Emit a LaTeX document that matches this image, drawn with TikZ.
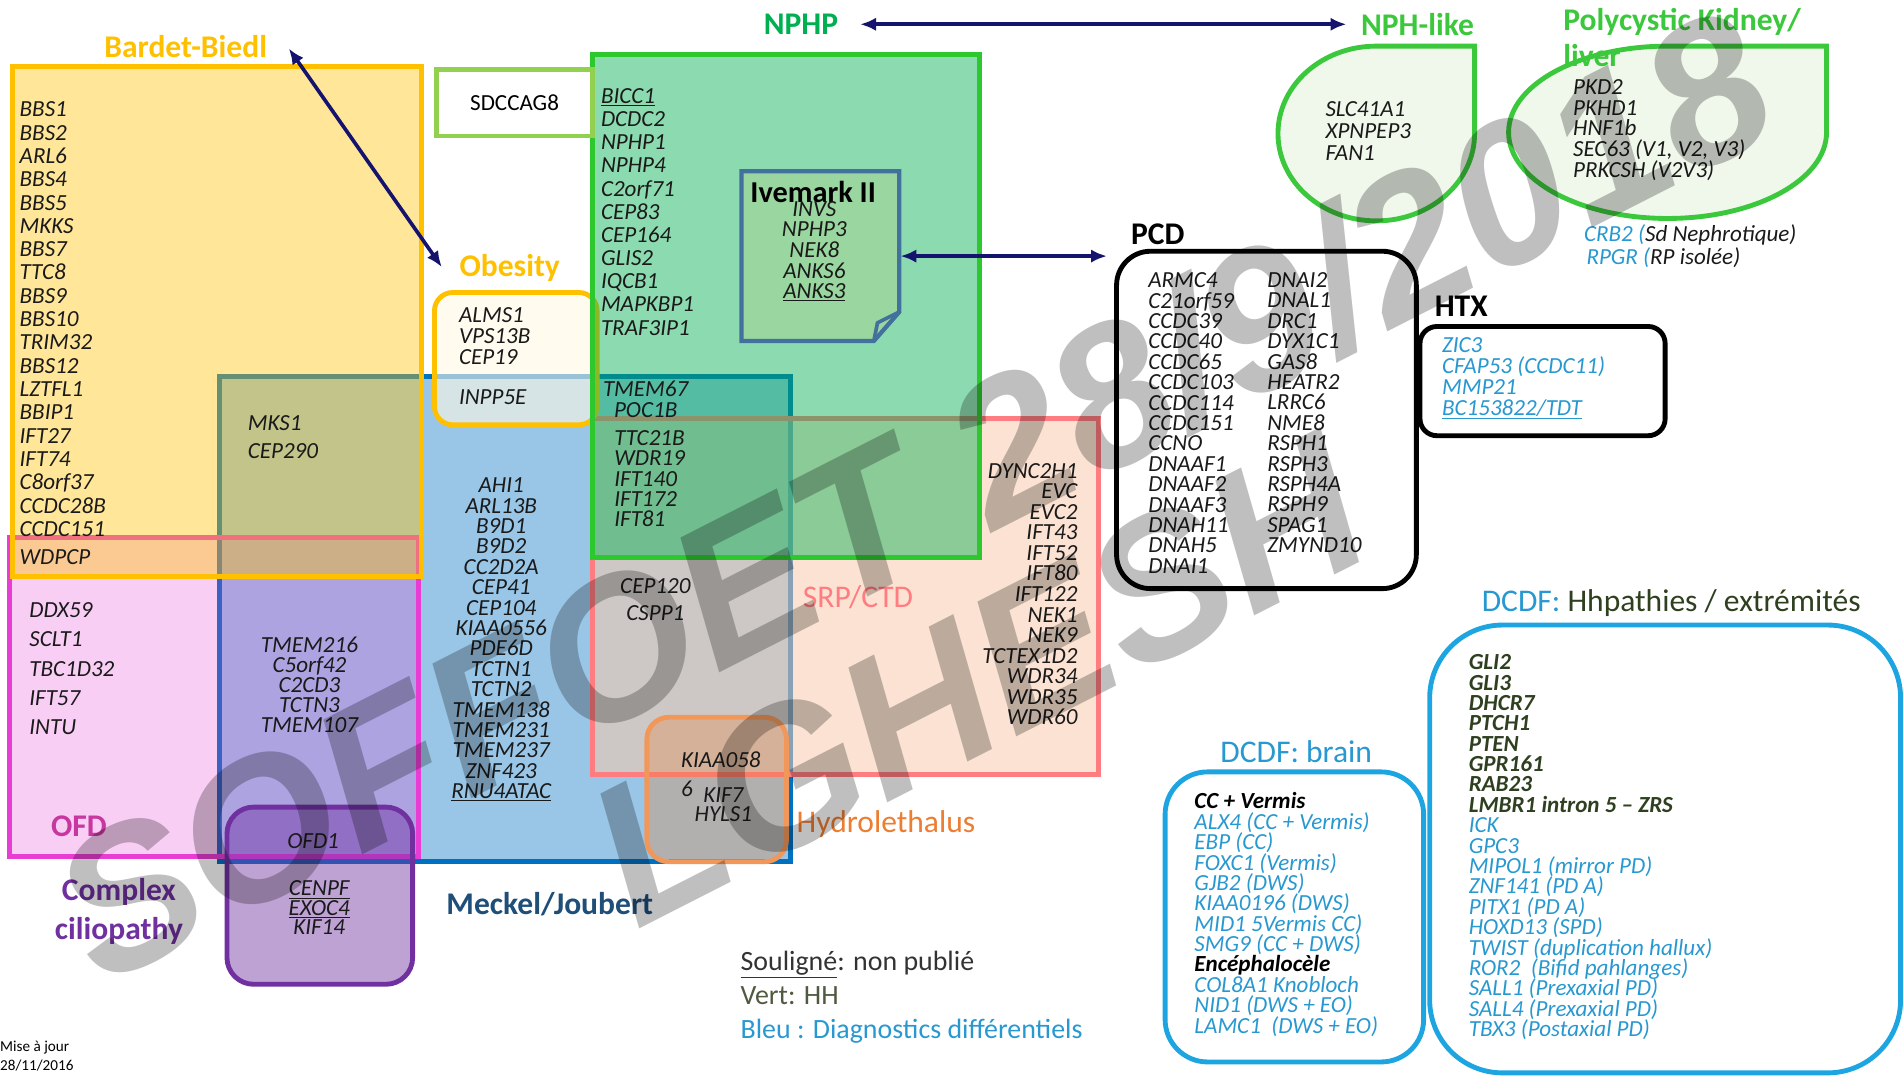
\documentclass[tikz,border=0pt]{standalone}
\usepackage{fontspec}
\setmainfont{Carlito}
\newfontfamily\wmfont{Liberation Sans}
\usetikzlibrary{arrows.meta}
\definecolor{gold}{HTML}{FFC000}
\definecolor{meckblue}{HTML}{0070C0}
\definecolor{meckdark}{HTML}{1F4E79}
\definecolor{nphgreen}{HTML}{00B050}
\definecolor{boxgreen}{HTML}{2DC82D}
\definecolor{brightgreen}{HTML}{3CC83C}
\definecolor{salmon}{HTML}{FF7C80}
\definecolor{peach}{HTML}{F8CBAD}
\definecolor{ofdpink}{HTML}{E83CD4}
\definecolor{ofdtext}{HTML}{C8379F}
\definecolor{cplxpurple}{HTML}{7030A0}
\definecolor{hydorange}{HTML}{ED7D31}
\definecolor{ivblue}{HTML}{41719C}
\definecolor{ivfill}{HTML}{A9D18E}
\definecolor{sdgreen}{HTML}{92D050}
\definecolor{navy}{HTML}{14146E}
\definecolor{dcdf}{HTML}{2898D0}
\definecolor{dcdfline}{HTML}{1CA5E0}
\definecolor{hhdark}{HTML}{2F4020}
\definecolor{genetxt}{HTML}{1A1A1A}
\definecolor{dropfill}{HTML}{F0F7EB}
\definecolor{legendgray}{HTML}{333333}
\definecolor{vert}{HTML}{4F5A40}
\newcommand\genefont[1]{\fontsize{19}{#1}\selectfont\itshape\lineskiplimit=-50pt\relax}
\newcommand\hhgene[1]{\textbf{\textcolor{hhdark}{#1}}}
\lineskiplimit=-50pt

\begin{document}
\begin{tikzpicture}[x=1pt,y=-1pt,
  box/.style={line width=4pt},
  gene/.style={inner sep=0pt,text=genetxt,font=\genefont{#1}},
  gene/.default=16.8,
  title/.style={inner sep=0pt,font=\fontsize{26}{30}\selectfont\bfseries},
  plain/.style={inner sep=0pt,font=\fontsize{26}{30}\selectfont},
  link/.style={navy,line width=3pt,{Latex[length=13pt,width=11pt]}-{Latex[length=13pt,width=11pt]}},
  stamp/.style={inner sep=0pt,text=black,text opacity=.25,rotate=27,font=\wmfont\bfseries\itshape\fontsize{165}{165}\selectfont}]
\useasboundingbox (0,0) rectangle (1568,887);

% overlapping groups
\draw[box,draw=meckblue,fill=meckblue,fill opacity=.4] (181,310) rectangle (651,710);
\draw[box,draw=salmon,fill=peach,fill opacity=.55] (488,345) rectangle (905,638);
\draw[box,draw=gold,fill=gold!10,fill opacity=.6,rounded corners=15pt] (358,241) rectangle (492,350);
\draw[box,draw=ofdpink,fill=ofdpink,fill opacity=.25] (8,443) rectangle (345,706);
\draw[box,draw=gold,fill=gold,fill opacity=.4] (10,55) rectangle (347,475);
\draw[box,draw=boxgreen,fill=nphgreen,fill opacity=.45] (488,45) rectangle (807,459);
\draw[box,line width=3.5pt,draw=ivblue,fill=ivfill,fill opacity=.5] (611,141) -- (741,141) -- (741,257) -- (720,281) -- (611,281) -- cycle;
\draw[ivblue,line width=3pt] (741,257) -- (723,266) -- (720,281);
\draw[box,draw=sdgreen,fill=white] (360,57) rectangle (488,112);
\draw[box,draw=hydorange!80,fill=hydorange,fill opacity=.3,rounded corners=18pt] (533,591) rectangle (648,710);
\draw[box,draw=cplxpurple,fill=cplxpurple,fill opacity=.45,rounded corners=22pt] (187,665) rectangle (340,811);

% separate groups
\draw[box,fill=white,rounded corners=28pt] (920,207) rectangle (1167,485);
\draw[box,fill=white,rounded corners=14pt] (1170,269) rectangle (1372,359);
\draw[box,draw=brightgreen,fill=dropfill] (1134,38) arc[start angle=-90,end angle=-360,x radius=81,y radius=72] -- (1215,38) -- cycle;
\draw[box,draw=brightgreen,fill=dropfill] (1374,38) arc[start angle=-90,end angle=-360,x radius=131,y radius=71] -- (1505,38) -- cycle;
\draw[box,draw=dcdfline,rounded corners=35pt] (960,636) rectangle (1173,875);
\draw[box,draw=dcdfline,rounded corners=60pt] (1178,515) rectangle (1566,884);

% genes
\node[gene=19.2,anchor=west,align=left] (bbsgenes) at (16,263) {BBS1\\BBS2\\ARL6\\BBS4\\BBS5\\MKKS\\BBS7\\TTC8\\BBS9\\BBS10\\TRIM32\\BBS12\\LZTFL1\\BBIP1\\IFT27\\IFT74\\C8orf37\\CCDC28B\\CCDC151};
\node[gene,anchor=west] (wdpcp) at (16,459) {WDPCP};
\node[gene=24,anchor=west,align=left] (ofdgenes) at (24,551) {DDX59\\SCLT1\\TBC1D32\\IFT57\\INTU};
\node[gene=23,anchor=west,align=left] (mksgenes) at (204,360.5) {MKS1\\CEP290};
\node[gene=17,anchor=west,align=left] (obgenes) at (378,277) {ALMS1\\VPS13B\\CEP19};
\node[gene,anchor=west] (inpp) at (378,327) {INPP5E};
\node[gene,align=center] (meckgenes) at (413,527) {AHI1\\ARL13B\\B9D1\\B9D2\\CC2D2A\\CEP41\\CEP104\\KIAA0556\\PDE6D\\TCTN1\\TCTN2\\TMEM138\\TMEM231\\TMEM237\\ZNF423\\\underline{RNU4ATAC}};
\node[gene=16.5,align=center] (cplxgenes) at (255,564) {TMEM216\\C5orf42\\C2CD3\\TCTN3\\TMEM107};
\node[gene] (ofdone) at (258,693) {OFD1};
\node[gene=16,align=center] (cenpf) at (263,748) {\underline{CENPF}\\\underline{EXOC4}\\KIF14};
\node[gene=19.1,anchor=west,align=left] (nphpgenes) at (495,174.5) {\underline{BICC1}\\DCDC2\\NPHP1\\NPHP4\\C2orf71\\CEP83\\CEP164\\GLIS2\\IQCB1\\MAPKBP1\\TRAF3IP1};
\node[gene=18,align=center] (tmemgenes) at (532,329) {TMEM67\\POC1B};
\node[gene=16.75,anchor=west,align=left] (ttcgenes) at (506,394.5) {TTC21B\\WDR19\\IFT140\\IFT172\\IFT81};
\node[gene=22,align=center] (cepgenes) at (540,494) {CEP120\\CSPP1};
\node[gene,anchor=west] (kiaa) at (561,626) {KIAA058};
\node[gene,anchor=west] (six) at (561,650) {6};
\node[gene=16,align=center] (kifgenes) at (596,663) {KIF7\\HYLS1};
\node[gene=16.9,anchor=east,align=right] (srpgenes) at (888,489.5) {DYNC2H1\\EVC\\EVC2\\IFT43\\IFT52\\IFT80\\IFT122\\NEK1\\NEK9\\TCTEX1D2\\WDR34\\WDR35\\WDR60};
\node[inner sep=0pt,font=\fontsize{25}{30}\selectfont\bfseries] (ivlab) at (670,158) {Ivemark II};
\node[gene=17,align=center] (ivgenes) at (671,207) {INVS\\NPHP3\\NEK8\\ANKS6\\\underline{ANKS3}};
\node[inner sep=0pt,font=\fontsize{19}{22}\selectfont] (sdcc) at (424,85) {SDCCAG8};
\node[gene,anchor=west,align=left] (pcdone) at (946,348.5) {ARMC4\\C21orf59\\CCDC39\\CCDC40\\CCDC65\\CCDC103\\CCDC114\\CCDC151\\CCNO\\DNAAF1\\DNAAF2\\DNAAF3\\DNAH11\\DNAH5\\DNAI1};
\node[gene,anchor=west,align=left] (pcdtwo) at (1044,340) {DNAI2\\DNAL1\\DRC1\\DYX1C1\\GAS8\\HEATR2\\LRRC6\\NME8\\RSPH1\\RSPH3\\RSPH4A\\RSPH9\\SPAG1\\ZMYND10};
\node[gene=17.3,anchor=west,align=left,text=dcdf] (htxgenes) at (1188,312) {ZIC3\\CFAP53 (CCDC11)\\MMP21\\\underline{BC153822/TDT}};
\node[gene=18,anchor=west,align=left] (nphlgenes) at (1092,108) {SLC41A1\\XPNPEP3\\FAN1};
\node[gene=17,anchor=west,align=left] (pkdgenes) at (1296,107) {PKD2\\PKHD1\\HNF1b\\SEC63 (V1, V2, V3)\\PRKCSH (V2V3)};
\node[gene=19,anchor=west,align=left] (crbgenes) at (1305,202.5) {\textcolor{dcdf}{CRB2 (}Sd Nephrotique)\\\hspace{2pt}\textcolor{dcdf}{RPGR (}RP isolée)};
\node[gene,anchor=west,align=left,text=dcdf] (braingenes) at (984,753.5) {\textbf{\textcolor{black}{CC + Vermis}}\\ALX4 (CC + Vermis)\\EBP (CC)\\FOXC1 (Vermis)\\GJB2 (DWS)\\KIAA0196 (DWS)\\MID1 5Vermis CC)\\SMG9 (CC + DWS)\\\textbf{\textcolor{black}{Encéphalocèle}}\\COL8A1 Knobloch\\NID1 (DWS + EO)\\LAMC1~~(DWS + EO)};
\node[gene,anchor=west,align=left,text=dcdf] (hhgenes) at (1210,698) {\hhgene{GLI2}\\\hhgene{GLI3}\\\hhgene{DHCR7}\\\hhgene{PTCH1}\\\hhgene{PTEN}\\\hhgene{GPR161}\\\hhgene{RAB23}\\\hhgene{LMBR1 intron 5 – ZRS}\\ICK\\GPC3\\MIPOL1 (mirror PD)\\ZNF141 (PD A)\\PITX1 (PD A)\\HOXD13 (SPD)\\TWIST (duplication hallux)\\ROR2~~(Bifid pahlanges)\\SALL1 (Prexaxial PD)\\SALL4 (Prexaxial PD)\\TBX3 (Postaxial PD)};

% group names
\node[title,text=gold] (bblab) at (153,38) {Bardet-Biedl};
\node[title,text=gold] (oblab) at (420,221) {Obesity};
\node[title,text=nphgreen] (nphp) at (660,20) {NPHP};
\node[title,text=brightgreen] (nphl) at (1168,20) {NPH-like};
\node[title,text=brightgreen,anchor=west,align=left] (pkdlab) at (1288,31) {Polycystic Kidney/\\liver};
\node[title] (pcdlab) at (954,193) {PCD};
\node[title] (htxlab) at (1204,252) {HTX};
\node[plain,text=salmon] (srplab) at (707,492) {SRP/CTD};
\node[plain,text=hydorange] (hydlab) at (730,679) {Hydrolethalus};
\node[title,text=ofdtext] (ofdlab) at (65,681) {OFD};
\node[title,text=cplxpurple,align=center,font=\fontsize{26}{32}\selectfont\bfseries] (cplxlab) at (98,751) {Complex\\ciliopathy};
\node[title,text=meckdark] (mecklab) at (453,745) {Meckel/Joubert};
\node[plain,text=dcdf] (brainlab) at (1068,619) {DCDF: brain};
\node[plain,text=hhdark] (hhlab) at (1377,497) {\textcolor{dcdf}{DCDF:} Hhpathies / extrémités};
\node[inner sep=0pt,anchor=west,align=left,font=\fontsize{23}{28}\selectfont,text=legendgray] (legend) at (610,822) {\underline{Souligné}: non publié\\\textcolor{vert}{Vert: HH}\\\textcolor{dcdf}{Bleu : Diagnostics différentiels}};
\node[inner sep=0pt,anchor=west,align=left,font=\fontsize{12.5}{16}\selectfont] (update) at (0,870) {Mise à jour\\28/11/2016};

% links
\coordinate (bbtip) at (238,40);
\coordinate (obtip) at (364,220);
\coordinate (ivright) at (742,211);
\coordinate (pcdleft) at (912,211);
\draw[link] (bbtip) -- (obtip);
\draw[link] ([xshift=18pt]nphp.east) -- ([xshift=-12pt]nphl.west);
\draw[link] (ivright) -- (pcdleft);

% watermark
\node[stamp] (wmone) at (752,408) {SOFFOET 28/9/2018};
\node[stamp] (wmtwo) at (805,560) {LGHESH};
\end{tikzpicture}
\end{document}
